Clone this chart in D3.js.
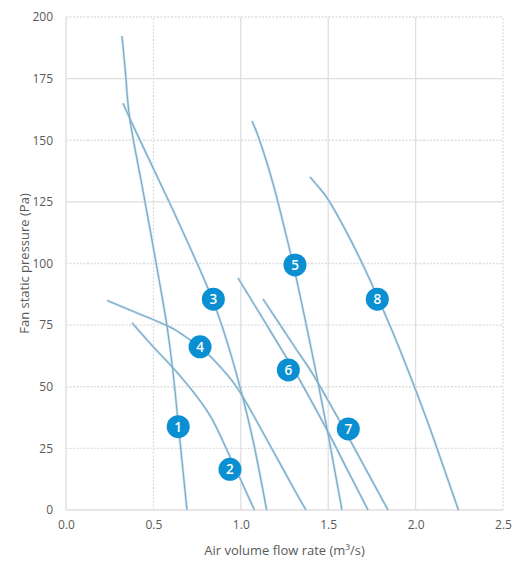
<!DOCTYPE html>
<html>
<head>
<meta charset="utf-8">
<script src="https://cdn.jsdelivr.net/npm/d3@7"></script>
<style>
  html, body { margin: 0; padding: 0; background: #ffffff; }
  svg { display: block; }
  text { font-family: "Open Sans", "Noto Sans", sans-serif; }
</style>
</head>
<body>
<svg id="chart" width="519" height="561"></svg>
<script>
// ---- Data ----
const xTicks = [0.0, 0.5, 1.0, 1.5, 2.0, 2.5];
const yTicks = [0, 25, 50, 75, 100, 125, 150, 175, 200];
const xLabel = "Air volume flow rate (m³/s)";
const yLabel = "Fan static pressure (Pa)";

const fanIds = ["1", "2", "3", "4", "5", "6", "7", "8"];

const fan1Flow = [0.320, 0.343, 0.366, 0.429, 0.492, 0.543, 0.578, 0.612, 0.645, 0.692];
const fan1Pres = [192.3, 175.0, 158.2, 133.9, 109.5, 89.2, 74.5, 56.0, 33.0, 0];
const fan2Flow = [0.378, 0.498, 0.606, 0.709, 0.824, 0.910, 0.984, 1.078];
const fan2Pres = [75.9, 66.3, 58.2, 49.6, 38.3, 26.0, 14.6, 0];
const fan3Flow = [0.326, 0.400, 0.500, 0.600, 0.700, 0.800, 0.864, 0.927, 0.995, 1.070, 1.148];
const fan3Pres = [165.0, 153.5, 138.5, 123.5, 108.0, 92.0, 80.5, 67.0, 50.0, 28.2, 0];
const fan4Flow = [0.235, 0.383, 0.578, 0.652, 0.767, 0.860, 0.955, 1.040, 1.130, 1.224, 1.310, 1.373];
const fan4Pres = [85.0, 80.6, 74.8, 71.8, 66.1, 59.8, 52.0, 42.5, 31.0, 18.9, 7.8, 0];
const fan5Flow = [1.064, 1.110, 1.184, 1.241, 1.300, 1.360, 1.420, 1.500, 1.579];
const fan5Pres = [157.8, 149.5, 132.5, 116.8, 99.5, 80.0, 59.5, 30.5, 0];
const fan6Flow = [0.984, 1.110, 1.264, 1.339, 1.493, 1.608, 1.728];
const fan6Pres = [94.1, 79.5, 61.5, 52.5, 32.5, 16.5, 0];
const fan7Flow = [1.127, 1.241, 1.339, 1.413, 1.590, 1.842];
const fan7Pres = [85.6, 73.4, 62.9, 55.0, 32.9, 0];
const fan8Flow = [1.396, 1.450, 1.510, 1.625, 1.739, 1.871, 1.985, 2.100, 2.245];
const fan8Pres = [135.1, 130.6, 124.8, 110.0, 93.3, 71.8, 51.5, 29.6, 0];

const badgeFlow = [0.642, 0.938, 0.843, 0.767, 1.310, 1.272, 1.615, 1.781];
const badgePres = [33.8, 16.5, 85.5, 66.2, 99.4, 56.8, 32.9, 85.5];

// ---- Layout ----
const svg = d3.select("#chart");
const margin = { left: 66, right: 16, top: 17, bottom: 51 };
const W = 519, H = 561;
const x = d3.scaleLinear().domain([0, 2.5]).range([margin.left, W - margin.right]);
const y = d3.scaleLinear().domain([0, 200]).range([H - margin.bottom, margin.top]);

const gridColor = "#dedede";
const dottedY = new Set([200, 150, 100, 75, 50, 25]);
const dottedX = new Set([0.5, 2.5]);

// Grid
const grid = svg.append("g");
grid.selectAll("line.h").data(yTicks).enter().append("line")
  .attr("x1", x(0)).attr("x2", x(2.5))
  .attr("y1", d => y(d)).attr("y2", d => y(d))
  .attr("stroke", gridColor).attr("stroke-width", 1.3)
  .attr("stroke-dasharray", d => dottedY.has(d) ? "2,1.5" : null);
grid.selectAll("line.v").data(xTicks).enter().append("line")
  .attr("y1", y(0)).attr("y2", y(200))
  .attr("x1", d => x(d)).attr("x2", d => x(d))
  .attr("stroke", gridColor).attr("stroke-width", 1.3)
  .attr("stroke-dasharray", d => dottedX.has(d) ? "2,1.5" : null);

// Axes (tick labels only)
const xAxis = d3.axisBottom(x).tickValues(xTicks).tickFormat(d3.format(".1f")).tickSize(0).tickPadding(10);
const yAxis = d3.axisLeft(y).tickValues(yTicks).tickSize(0).tickPadding(8);
const gx = svg.append("g").attr("transform", `translate(0,${y(0)})`).call(xAxis);
const gy = svg.append("g").attr("transform", `translate(${margin.left - 5},0)`).call(yAxis);
[gx, gy].forEach(g => {
  g.select(".domain").remove();
  g.selectAll("text").attr("fill", "#5a5a5a").style("font-size", "12px")
    .style("font-family", "'Open Sans', sans-serif");
});

// Axis titles
svg.append("text").attr("x", x(1.25)).attr("y", 555)
  .attr("text-anchor", "middle").attr("fill", "#5a5a5a").style("font-size", "13px")
  .text(xLabel);
svg.append("text")
  .attr("transform", `translate(29,${(y(0) + y(200)) / 2}) rotate(-90)`)
  .attr("text-anchor", "middle").attr("fill", "#5a5a5a").style("font-size", "13px")
  .text(yLabel);

// Curves
const flows = [fan1Flow, fan2Flow, fan3Flow, fan4Flow, fan5Flow, fan6Flow, fan7Flow, fan8Flow];
const press = [fan1Pres, fan2Pres, fan3Pres, fan4Pres, fan5Pres, fan6Pres, fan7Pres, fan8Pres];
const series = flows.map((f, i) => f.map((v, j) => [v, press[i][j]]));
const line = d3.line().x(d => x(d[0])).y(d => y(d[1])).curve(d3.curveNatural);

svg.append("g").selectAll("path").data(series).enter().append("path")
  .attr("d", line).attr("fill", "none")
  .attr("stroke", "#c8e4f4").attr("stroke-width", 2.6);
svg.append("g").selectAll("path").data(series).enter().append("path")
  .attr("d", line).attr("fill", "none")
  .attr("stroke", "#80a9c3").attr("stroke-width", 1.2);

// Badges
const badges = svg.append("g").selectAll("g").data(fanIds).enter().append("g")
  .attr("transform", (d, i) => `translate(${x(badgeFlow[i])},${y(badgePres[i])})`);
badges.append("circle").attr("r", 11.5).attr("fill", "#0a90d2");
badges.append("text").attr("text-anchor", "middle").attr("dy", "0.36em")
  .attr("fill", "#ffffff").style("font-size", "13.5px").style("font-weight", "600")
  .text(d => d);
</script>
</body>
</html>
